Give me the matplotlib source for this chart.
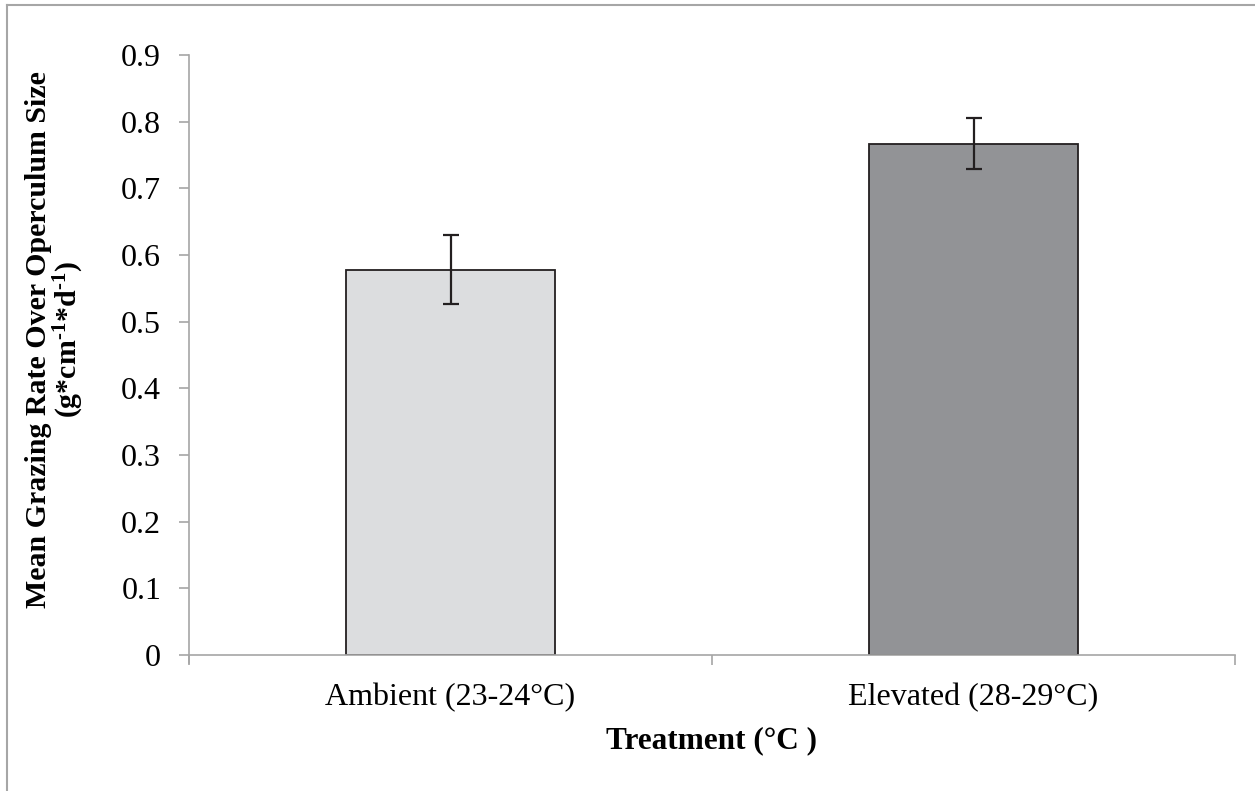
import matplotlib
matplotlib.use("Agg")
import matplotlib.pyplot as plt
from matplotlib.lines import Line2D

plt.rcParams['font.family'] = ['Liberation Serif', 'DejaVu Serif']
plt.rcParams['mathtext.fontset'] = 'custom'
plt.rcParams['mathtext.rm'] = 'Liberation Serif:bold'
plt.rcParams['mathtext.bf'] = 'Liberation Serif:bold'
plt.rcParams['mathtext.default'] = 'bf'

# data
treatments = ['Ambient (23-24°C)', 'Elevated (28-29°C)']
mean_rate = [0.578, 0.767]
std_err = [0.052, 0.038]
bar_colors = ['#DCDDDF', '#929396']
yticks = [0, 0.1, 0.2, 0.3, 0.4, 0.5, 0.6, 0.7, 0.8, 0.9]

axis_gray = '#A6A6A6'
edge = '#231F20'

fig = plt.figure(figsize=(12.55, 7.91), dpi=100)
ax = fig.add_axes([189 / 1255, 1 - 655 / 791, (1235 - 189) / 1255, (655 - 55) / 791])

x = range(len(treatments))
ax.bar(x, mean_rate, width=0.4, color=bar_colors, edgecolor=edge, linewidth=1.3, zorder=2)
ax.errorbar(x, mean_rate, yerr=std_err, fmt='none', ecolor=edge, elinewidth=1.6,
            capsize=6, capthick=1.6, zorder=3)

ax.set_xlim(-0.5, 1.5)
ax.set_ylim(0, 0.9)

# category boundary ticks like Excel
ax.set_xticks([-0.5, 0.5, 1.5])
ax.set_xticklabels([])
ax.set_xticks(list(x), minor=True)
ax.set_xticklabels(treatments, minor=True)
ax.tick_params(axis='x', which='major', direction='out', length=7, width=1.2, color=axis_gray)
ax.tick_params(axis='x', which='minor', length=0, pad=20, labelsize=23)

ax.set_yticks(yticks)
ax.set_yticklabels([f'{v:g}' for v in yticks])
ax.tick_params(axis='y', direction='out', length=7, width=1.2, color=axis_gray, pad=13, labelsize=23)

for s in ['top', 'right']:
    ax.spines[s].set_visible(False)
for s in ['left', 'bottom']:
    ax.spines[s].set_color(axis_gray)
    ax.spines[s].set_linewidth(1.2)
ax.spines['left'].set_bounds(-0.012, 0.9)

ax.set_xlabel('Treatment (°C )', fontsize=22.5, fontweight='bold', labelpad=10)
ax.set_ylabel('Mean Grazing Rate Over Operculum Size\n(g*cm$^{\\text{-}1}$*d$^{\\text{-}1}$)',
              fontsize=21.5, fontweight='bold', linespacing=1.0)
ax.yaxis.set_label_coords(-0.098, 0.525)

# outer frame (top and left edges visible)
fig.add_artist(Line2D([7 / 1255, 1], [1 - 5 / 791, 1 - 5 / 791], color=axis_gray, lw=1.5,
                      transform=fig.transFigure))
fig.add_artist(Line2D([7 / 1255, 7 / 1255], [0, 1 - 5 / 791], color=axis_gray, lw=1.5,
                      transform=fig.transFigure))

fig.savefig('out.png', dpi=100)
